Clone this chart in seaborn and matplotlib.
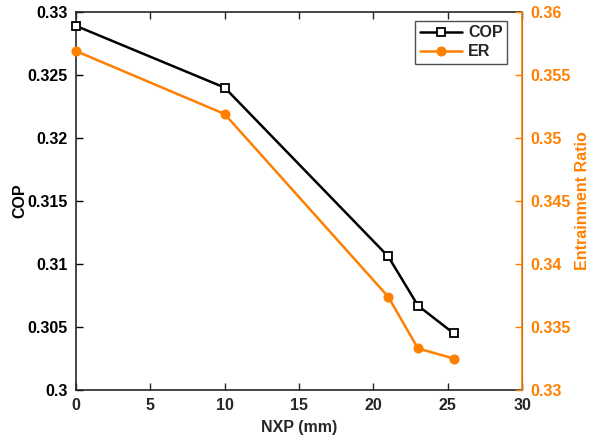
import matplotlib
matplotlib.use("Agg")
import matplotlib.pyplot as plt
import seaborn as sns
import pandas as pd

nxp_mm = [0, 10, 21, 23, 25.4]
cop = [0.3289, 0.3240, 0.3106, 0.3067, 0.3045]
er = [0.3569, 0.3519, 0.3374, 0.3333, 0.3325]

sns.set_style("ticks")
plt.rcParams["font.family"] = ["Liberation Sans", "DejaVu Sans"]
plt.rcParams["font.weight"] = "bold"
plt.rcParams["font.size"] = 11.5

orange = "#FF8000"
fs = 11.5
df = pd.DataFrame({"NXP": nxp_mm, "COP": cop, "ER": er})

fig = plt.figure(figsize=(5.91, 4.43), dpi=100)
ax = fig.add_axes([0.1286, 0.1196, 0.7547, 0.8533])
ax2 = ax.twinx()

sns.lineplot(data=df, x="NXP", y="COP", ax=ax, color="black", marker="s",
             markersize=6, markerfacecolor="white", markeredgecolor="black",
             markeredgewidth=1.3, linewidth=1.8, label="COP", legend=False,
             clip_on=False, zorder=3)
sns.lineplot(data=df, x="NXP", y="ER", ax=ax2, color=orange, marker="o",
             markersize=6.5, markeredgecolor=orange, linewidth=1.8,
             label="ER", legend=False, clip_on=False, zorder=3)

ax.set_xlim(0, 30)
ax.set_ylim(0.30, 0.33)
ax2.set_ylim(0.33, 0.36)
ax.set_xticks([0, 5, 10, 15, 20, 25, 30])
ax.set_xticklabels(["0", "5", "10", "15", "20", "25", "30"])
ax.set_yticks([0.30, 0.305, 0.31, 0.315, 0.32, 0.325, 0.33])
ax.set_yticklabels(["0.3", "0.305", "0.31", "0.315", "0.32", "0.325", "0.33"])
ax2.set_yticks([0.33, 0.335, 0.34, 0.345, 0.35, 0.355, 0.36])
ax2.set_yticklabels(["0.33", "0.335", "0.34", "0.345", "0.35", "0.355", "0.36"])

ax.set_xlabel("NXP (mm)", fontweight="bold", color="#262626", fontsize=fs, labelpad=5)
ax.set_ylabel("COP", fontweight="bold", color="black", fontsize=fs, labelpad=0)
ax2.set_ylabel("Entrainment Ratio", fontweight="bold", color=orange, fontsize=fs,
               labelpad=3)

ax.tick_params(axis="both", direction="in", length=5, width=1, colors="#262626",
               top=True, right=False, labelsize=fs, pad=6)
ax.tick_params(axis="y", colors="black")
ax2.tick_params(axis="y", direction="in", length=5, width=1, colors=orange,
                labelsize=fs, pad=6)

for s in ["left", "bottom", "top"]:
    ax.spines[s].set_color("#262626")
    ax.spines[s].set_linewidth(1.2)
ax2.spines["right"].set_color(orange)
ax2.spines["right"].set_linewidth(1.2)
ax2.spines["top"].set_visible(False)
ax2.spines["left"].set_visible(False)
ax2.spines["bottom"].set_visible(False)

h1, l1 = ax.get_legend_handles_labels()
h2, l2 = ax2.get_legend_handles_labels()
leg = ax2.legend(h1 + h2, l1 + l2, loc="upper right", bbox_to_anchor=(0.978, 0.99),
                 frameon=True, fancybox=False, edgecolor="#262626",
                 handlelength=2.6, borderpad=0.3, labelspacing=0.25,
                 handletextpad=0.4, borderaxespad=0.3,
                 prop={"weight": "bold", "size": fs})
leg.get_frame().set_linewidth(1.0)

fig.savefig("out.png", dpi=100)
